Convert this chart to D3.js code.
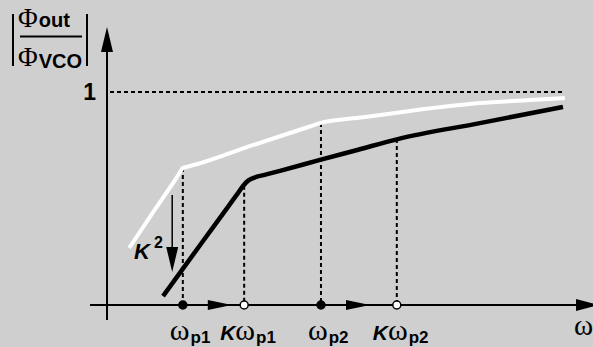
<!DOCTYPE html>
<html>
<head>
<meta charset="utf-8">
<script src="https://cdn.jsdelivr.net/npm/d3@7"></script>
<style>
  html, body { margin: 0; padding: 0; background: #cfcfcf; }
  svg { display: block; }
</style>
</head>
<body>
<svg id="chart" width="593" height="347"></svg>
<script>
// ---- data (abstract units: x = frequency position, y = |Φout/ΦVCO|) ----
const whiteX = [0.46, 1.00, 1.40, 1.50, 1.57, 1.64, 1.80, 3.00, 4.20, 4.41, 5.30, 6.27, 7.72, 8.76, 9.48];
const whiteY = [0.268, 0.451, 0.584, 0.619, 0.643, 0.648, 0.657, 0.749, 0.838, 0.854, 0.881, 0.911, 0.948, 0.962, 0.972];
const blackX = [1.16, 2.00, 2.55, 2.70, 2.82, 2.93, 3.05, 3.30, 3.60, 4.41, 5.20, 6.02, 7.72, 9.44];
const blackY = [0.042, 0.304, 0.475, 0.522, 0.560, 0.585, 0.598, 0.613, 0.631, 0.681, 0.729, 0.779, 0.854, 0.930];
const tickNames = ["p1", "p1", "p2", "p2"];
const tickHasK = [false, true, false, true];
const tickValues = [1.57, 2.84, 4.43, 6.00];
const tickLevels = [0.643, 0.560, 0.855, 0.779];
const unityLabel = "1";
const unityValue = 1;

const svg = d3.select("#chart");
const W = 593, H = 347;
svg.append("rect").attr("width", W).attr("height", H).attr("fill", "#cfcfcf");

const x = d3.scaleLinear().domain([0, 10]).range([107, 590]);
const y = d3.scaleLinear().domain([0, 1]).range([305, 92]);
const x0 = x(0), y0 = y(0);

const serif = "'Liberation Serif', 'Times New Roman', serif";
const sans = "'Liberation Sans', Arial, Helvetica, sans-serif";

// ---- unity dashed line ----
svg.append("line")
  .attr("x1", x0 + 3).attr("x2", x(9.48))
  .attr("y1", y(unityValue)).attr("y2", y(unityValue))
  .attr("stroke", "#000").attr("stroke-width", 2).attr("stroke-dasharray", "4,3");

// ---- vertical guide lines ----
tickValues.forEach((v, i) => {
  svg.append("line")
    .attr("x1", x(v)).attr("x2", x(v))
    .attr("y1", y(tickLevels[i])).attr("y2", y0)
    .attr("stroke", "#000").attr("stroke-width", 2).attr("stroke-dasharray", "4,3");
});

// ---- axes ----
svg.append("line").attr("x1", x0).attr("x2", x0).attr("y1", 320).attr("y2", 45)
  .attr("stroke", "#000").attr("stroke-width", 2);
svg.append("path").attr("d", `M${x0},27 L${x0-6},52 L${x0+6},52 Z`).attr("fill", "#000");
svg.append("line").attr("x1", 90).attr("x2", 580).attr("y1", y0).attr("y2", y0)
  .attr("stroke", "#000").attr("stroke-width", 2);
svg.append("path").attr("d", `M599,${y0} L576,${y0-6} L576,${y0+6} Z`).attr("fill", "#000");

// ---- curves ----
const line = d3.line().x(d => x(d[0])).y(d => y(d[1])).curve(d3.curveMonotoneX);
svg.append("path").attr("d", line(whiteX.map((v, i) => [v, whiteY[i]])))
  .attr("fill", "none").attr("stroke", "#fff").attr("stroke-width", 4);
svg.append("path").attr("d", line(blackX.map((v, i) => [v, blackY[i]])))
  .attr("fill", "none").attr("stroke", "#000").attr("stroke-width", 4.5);

// ---- axis markers (dots) and shift arrows ----
tickValues.forEach((v, i) => {
  svg.append("circle").attr("cx", x(v)).attr("cy", y0).attr("r", 4)
    .attr("fill", tickHasK[i] ? "#fff" : "#000")
    .attr("stroke", "#000").attr("stroke-width", 1.5);
  if (!tickHasK[i]) {
    const a = x(v) + 25, b = x(v) + 49;
    svg.append("path").attr("d", `M${b},${y0} L${a},${y0-5} L${a},${y0+5} Z`).attr("fill", "#000");
  }
});

// ---- tick labels ----
tickValues.forEach((v, i) => {
  const t = svg.append("text")
    .attr("x", x(v) + (tickHasK[i] ? -24 : -13))
    .attr("y", 340);
  if (tickHasK[i]) {
    t.append("tspan").attr("font-family", sans).attr("font-weight", "bold")
      .attr("font-style", "italic").attr("font-size", 21).text("K");
  }
  t.append("tspan").attr("font-family", serif).attr("font-size", 30).text("ω");
  t.append("tspan").attr("font-family", sans).attr("font-weight", "bold")
    .attr("font-size", 17).attr("dy", 3).attr("dx", 1).text(tickNames[i]);
});

// x-axis label ω
svg.append("text").attr("x", 574).attr("y", 335)
  .attr("font-family", serif).attr("font-size", 29).text("ω");

// unity label
svg.append("text").attr("x", 96).attr("y", y(unityValue) + 8)
  .attr("text-anchor", "end").attr("font-family", sans).attr("font-weight", "bold")
  .attr("font-size", 23).text(unityLabel);

// ---- K^2 arrow ----
const kx = x(1.35), kTop = y(0.516), kBot = y(0.155);
svg.append("line").attr("x1", kx).attr("x2", kx).attr("y1", kTop).attr("y2", kBot - 20)
  .attr("stroke", "#000").attr("stroke-width", 1.5);
svg.append("path").attr("d", `M${kx},${kBot} L${kx-6},${kBot-25} L${kx+6},${kBot-25} Z`).attr("fill", "#000");
const kt = svg.append("text").attr("x", 134).attr("y", 259)
  .attr("font-family", sans).attr("font-weight", "bold");
kt.append("tspan").attr("font-style", "italic").attr("font-size", 22).text("K");
kt.append("tspan").attr("font-size", 16).attr("dy", -11).attr("dx", 4).text("2");

// ---- y-axis label |Φout / ΦVCO| ----
const yl = svg.append("g");
yl.append("line").attr("x1", 13).attr("x2", 13).attr("y1", 14).attr("y2", 66)
  .attr("stroke", "#000").attr("stroke-width", 2);
yl.append("line").attr("x1", 87).attr("x2", 87).attr("y1", 14).attr("y2", 66)
  .attr("stroke", "#000").attr("stroke-width", 2);
yl.append("line").attr("x1", 20).attr("x2", 82).attr("y1", 36.5).attr("y2", 36.5)
  .attr("stroke", "#000").attr("stroke-width", 2);
const num = yl.append("text").attr("x", 18).attr("y", 27);
num.append("tspan").attr("font-family", serif).attr("font-size", 27).text("Φ");
num.append("tspan").attr("font-family", sans).attr("font-weight", "bold").attr("font-size", 20).attr("dx", 1).text("out");
const den = yl.append("text").attr("x", 18).attr("y", 66);
den.append("tspan").attr("font-family", serif).attr("font-size", 27).text("Φ");
den.append("tspan").attr("font-family", sans).attr("font-weight", "bold").attr("font-size", 20).attr("dy", 2).attr("dx", 1).text("VCO");
</script>
</body>
</html>
